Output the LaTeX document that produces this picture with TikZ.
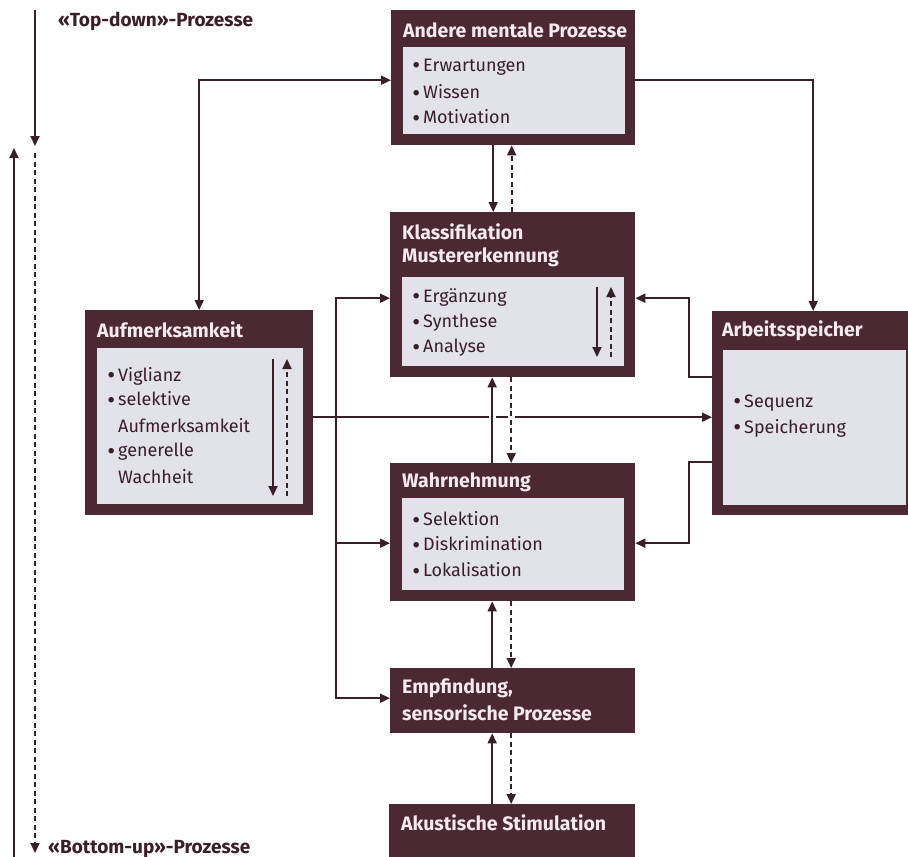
\documentclass[tikz,border=0pt]{standalone}
\usepackage{fontspec}
\setmainfont{Fira Sans}
\usetikzlibrary{arrows.meta,calc}
\definecolor{boxdark}{HTML}{4B2832}
\definecolor{boxlight}{HTML}{E1E2EA}
\definecolor{linecol}{HTML}{3A1E28}
\definecolor{titlecol}{HTML}{F4EAEF}
\newcommand{\bul}{\llap{\raisebox{-2.2pt}{\scalebox{1.35}{•}}\hspace{3pt}}}
\begin{document}
\begin{tikzpicture}[x=1pt,y=-1pt,
  outerbox/.style={fill=boxdark, draw=none, inner sep=0pt, anchor=north west},
  innerbox/.style={fill=boxlight, draw=none, inner sep=0pt, anchor=north west},
  titletext/.style={text=titlecol, font=\fontsize{19.5}{22}\selectfont\bfseries, inner sep=0pt, anchor=west},
  itemtext/.style={text=linecol, font=\fontsize{18}{21}\selectfont, inner sep=0pt, anchor=west},
  sidetext/.style={text=linecol, font=\fontsize{19}{22}\selectfont\bfseries, inner sep=0pt, anchor=west},
  conn/.style={draw=linecol, line width=1.8pt},
  arr/.style={conn, -{Triangle[length=10pt,width=9pt]}},
  darr/.style={arr, dash pattern=on 5pt off 3.5pt},
  barr/.style={conn, {Triangle[length=10pt,width=9pt]}-{Triangle[length=10pt,width=9pt]}},
  gap/.style={preaction={draw=white, line width=7pt, solid}}
]
\useasboundingbox[fill=white] (0,0) rectangle (908,857);

% ---- boxes ----
\node[outerbox, minimum width=244pt, minimum height=135pt] (A) at (391,10) {};
\node[innerbox, minimum width=222pt, minimum height=87pt] (Ai) at (403,47) {};
\node[titletext] (At) at (403,30) {Andere mentale Prozesse};
\node[itemtext] (A1) at (423,67) {\bul Erwartungen};
\node[itemtext] (A2) at (423,93) {\bul Wissen};
\node[itemtext] (A3) at (423,118) {\bul Motivation};

\node[outerbox, minimum width=245pt, minimum height=165pt] (K) at (390,212) {};
\node[innerbox, minimum width=222pt, minimum height=89pt] (Ki) at (402,277) {};
\node[titletext] (Kt1) at (402,232) {Klassifikation};
\node[titletext] (Kt2) at (402,257) {Mustererkennung};
\node[itemtext] (K1) at (423,297) {\bul Ergänzung};
\node[itemtext] (K2) at (423,323) {\bul Synthese};
\node[itemtext] (K3) at (423,348) {\bul Analyse};

\node[outerbox, minimum width=245pt, minimum height=138pt] (W) at (390,463) {};
\node[innerbox, minimum width=222pt, minimum height=92pt] (Wi) at (402,498) {};
\node[titletext] (Wt) at (402,482) {Wahrnehmung};
\node[itemtext] (W1) at (423,520) {\bul Selektion};
\node[itemtext] (W2) at (423,545) {\bul Diskrimination};
\node[itemtext] (W3) at (423,571) {\bul Lokalisation};

\node[outerbox, minimum width=245pt, minimum height=65pt] (E) at (390,668) {};
\node[titletext] (Et1) at (402,688) {Empfindung,};
\node[titletext] (Et2) at (402,713) {sensorische Prozesse};

\node[outerbox, minimum width=246pt, minimum height=53pt] (S) at (389,804) {};
\node[titletext] (St) at (401,823) {Akustische Stimulation};

\node[outerbox, minimum width=228pt, minimum height=205pt] (M) at (85,310) {};
\node[innerbox, minimum width=206pt, minimum height=156pt] (Mi) at (97,348) {};
\node[titletext] (Mt) at (97,330) {Aufmerksamkeit};
\node[itemtext] (M1) at (118,376) {\bul Viglianz};
\node[itemtext] (M2) at (118,400) {\bul selektive};
\node[itemtext] (M3) at (118,426) {Aufmerksamkeit};
\node[itemtext] (M4) at (118,452) {\bul generelle};
\node[itemtext] (M5) at (118,477) {Wachheit};

\node[outerbox, minimum width=196pt, minimum height=204pt] (R) at (712,311) {};
\node[innerbox, minimum width=183pt, minimum height=155pt] (Ri) at (723,350) {};
\node[titletext] (Rt) at (722,331) {Arbeitsspeicher};
\node[itemtext] (R1) at (744,403) {\bul Sequenz};
\node[itemtext] (R2) at (744,428) {\bul Speicherung};

% ---- inner arrows ----
\coordinate (ka1) at (597,287); \coordinate (ka2) at (597,357);
\coordinate (kb1) at (611,357); \coordinate (kb2) at (611,287);
\draw[arr] (ka1) -- (ka2);
\draw[darr] (kb1) -- (kb2);
\coordinate (ma1) at (273,359); \coordinate (ma2) at (273,496);
\coordinate (mb1) at (287,496); \coordinate (mb2) at (287,359);
\draw[arr] (ma1) -- (ma2);
\draw[darr] (mb1) -- (mb2);

% ---- connectors ----
\draw[barr] (M.north) |- ([yshift=-2.5pt]A.west);
\draw[arr] ([yshift=-2.5pt]A.east) -| ([xshift=3pt]R.north);

\coordinate (j) at (336,417);
\draw[arr] ([yshift=-4.5pt]M.east) -- ([yshift=-4.5pt]M.east -| R.west);
\draw[arr] (j) |- ([yshift=-3.5pt]K.west);
\draw[arr] (j) |- ([yshift=-11pt]W.west);
\draw[arr] (j) |- ([yshift=2.5pt]E.west);

\draw[arr] ([yshift=36pt]R.west) -- ++(-23,0) |- ([yshift=-3.5pt]K.east);
\draw[arr] ([yshift=-49pt]R.west) -- ++(-23,0) |- ([yshift=-11pt]W.east);

\draw[arr] ([xshift=-20pt]A.south) -- ([xshift=-19.5pt]K.north);
\draw[darr] ([xshift=-1pt]K.north) -- ([xshift=-1.5pt]A.south);

\draw[arr, gap] ([xshift=-20.5pt]W.north) -- ([xshift=-20.5pt]K.south);
\draw[darr, gap] ([xshift=-1.5pt]K.south) -- ([xshift=-1.5pt]W.north);

\draw[arr] ([xshift=-20.5pt]E.north) -- ([xshift=-20.5pt]W.south);
\draw[darr] ([xshift=-1.5pt]W.south) -- ([xshift=-1.5pt]E.north);

\draw[arr] ([xshift=-20pt]S.north) -- ([xshift=-20.5pt]E.south);
\draw[darr] ([xshift=-1.5pt]E.south) -- ([xshift=-1pt]S.north);

% ---- top-down / bottom-up ----
\coordinate (td1) at (35,10); \coordinate (td2) at (35,146);
\coordinate (dd1) at (35,153); \coordinate (dd2) at (35,853);
\coordinate (bu1) at (14,857); \coordinate (bu2) at (14,148);
\draw[arr] (td1) -- (td2);
\draw[darr] (dd1) -- (dd2);
\draw[arr] (bu1) -- (bu2);
\node[sidetext] (tdl) at (58,21) {«Top-down»-Prozesse};
\node[sidetext] (bul) at (48,849) {«Bottom-up»-Prozesse};
\end{tikzpicture}
\end{document}
